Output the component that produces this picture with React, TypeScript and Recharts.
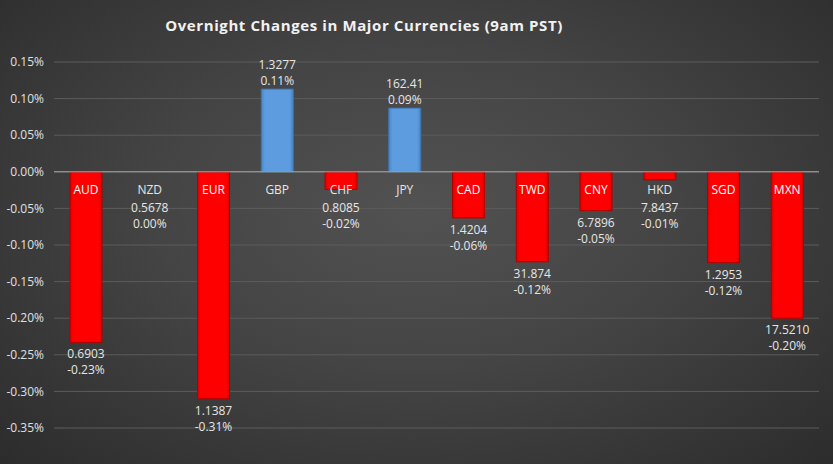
import React from 'react';
import { BarChart, Bar, XAxis, YAxis, CartesianGrid, ReferenceLine, Cell, LabelList } from 'recharts';

const currencies = ['AUD', 'NZD', 'EUR', 'GBP', 'CHF', 'JPY', 'CAD', 'TWD', 'CNY', 'HKD', 'SGD', 'MXN'];
const rates = ['0.6903', '0.5678', '1.1387', '1.3277', '0.8085', '162.41', '1.4204', '31.874', '6.7896', '7.8437', '1.2953', '17.5210'];
const changes = [-0.233, 0, -0.31, 0.113, -0.024, 0.087, -0.063, -0.123, -0.053, -0.011, -0.124, -0.2];
const yTicks = [0.15, 0.1, 0.05, 0, -0.05, -0.1, -0.15, -0.2, -0.25, -0.3, -0.35];

const data = currencies.map((name, i) => ({ name, rate: rates[i], change: changes[i] }));

const font = '"Open Sans", "Noto Sans", sans-serif';

const BarLabel = (props: any) => {
  const { x, y, width, height, value } = props;
  const d = data.find((r) => r.name === value);
  if (!d) return null;
  const h = Number(height) || 0;
  const top = Math.min(y, y + h);
  const bottom = Math.max(y, y + h);
  const cx = x + width / 2;
  const zero = d.change >= 0 ? bottom : top;
  const pct = d.change.toFixed(2) + '%';
  const nameY = zero + 22;
  let rateY: number;
  let pctY: number;
  if (d.change > 0) {
    pctY = top - 4;
    rateY = pctY - 16;
  } else {
    rateY = Math.max(bottom + 16, nameY + 18);
    pctY = rateY + 16;
  }
  const st = { fontFamily: font, fontSize: 12, fill: '#e6e6e6' };
  return (
    <g>
      <text x={cx} y={nameY} textAnchor="middle" style={{ ...st, fill: d.change < -0.04 ? '#ffffff' : '#e6e6e6' }}>
        {d.name}
      </text>
      <text x={cx} y={rateY} textAnchor="middle" style={st}>{d.rate}</text>
      <text x={cx} y={pctY} textAnchor="middle" style={st}>{pct}</text>
    </g>
  );
};

export default function App() {
  return (
    <div
      style={{
        position: 'absolute',
        left: 0,
        top: 0,
        width: 833,
        height: 464,
        background: 'radial-gradient(ellipse at 50% 45%, #525252 0%, #444444 45%, #2c2c2c 100%)',
      }}
    >
      <div
        style={{
          position: 'absolute',
          left: 0,
          width: 728,
          top: 15,
          textAlign: 'center',
          fontFamily: font,
          fontWeight: 700,
          fontSize: 15,
          color: '#f2f2f2',
          letterSpacing: 0.6,
        }}
      >
        Overnight Changes in Major Currencies (9am PST)
      </div>
      <BarChart
        width={833}
        height={464}
        data={data}
        margin={{ top: 62, right: 14, left: 0, bottom: 36 }}
        style={{ position: 'absolute', left: 0, top: 0 }}
      >
        <defs>
          <linearGradient id="blueFill" x1="0" y1="0" x2="1" y2="0">
            <stop offset="0%" stopColor="#4a86c8" />
            <stop offset="12%" stopColor="#5e9ce0" />
            <stop offset="88%" stopColor="#5e9ce0" />
            <stop offset="100%" stopColor="#4a86c8" />
          </linearGradient>
          <linearGradient id="redFill" x1="0" y1="0" x2="1" y2="0">
            <stop offset="0%" stopColor="#d80000" />
            <stop offset="10%" stopColor="#ff0000" />
            <stop offset="90%" stopColor="#ff0000" />
            <stop offset="100%" stopColor="#d80000" />
          </linearGradient>
        </defs>
        <CartesianGrid vertical={false} stroke="#5c5c5c" strokeWidth={1} />
        <XAxis dataKey="name" hide />
        <YAxis
          width={54}
          domain={[-0.35, 0.15]}
          ticks={yTicks}
          interval={0}
          axisLine={false}
          tickLine={false}
          tickMargin={4}
          tickFormatter={(v: number) => v.toFixed(2) + '%'}
          tick={{ fill: '#e0e0e0', fontSize: 12, fontFamily: font }}
        />
        <ReferenceLine y={0} stroke="#a8a8a8" strokeWidth={1} />
        <Bar
          dataKey="change"
          isAnimationActive={false}
          barSize={32}
          minPointSize={(v: number) => (v === 0 ? 1 : 0)}
        >
          {data.map((d) => (
            <Cell
              key={d.name}
              fill={d.change === 0 ? 'none' : d.change > 0 ? 'url(#blueFill)' : 'url(#redFill)'}
              stroke={d.change === 0 ? 'none' : d.change > 0 ? '#3f74ae' : '#b00000'}
              strokeWidth={1}
            />
          ))}
          <LabelList dataKey="name" content={BarLabel} />
        </Bar>
      </BarChart>
    </div>
  );
}
